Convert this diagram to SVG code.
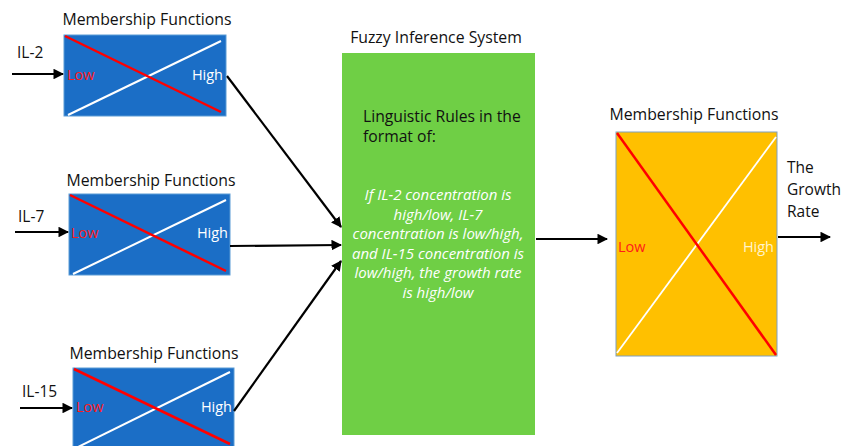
<svg xmlns="http://www.w3.org/2000/svg" width="842" height="446" viewBox="0 0 842 446">
  <style>
    text { font-family: "Open Sans", "Liberation Sans", sans-serif; }
    .title { font-size: 15.8px; fill: #111; text-anchor: middle; }
    .lbl { font-size: 15.5px; fill: #111; }
    .low { font-size: 14.5px; fill: #ff1a1a; }
    .high { font-size: 14.5px; fill: #ffffff; text-anchor: end; }
    .high2 { font-size: 14.5px; fill: #fff4cc; text-anchor: end; }
    .mf { fill: #1b6ec6; stroke: #5b9bd5; stroke-width: 1; }
    .out { fill: #ffc000; stroke: #7f9fbf; stroke-width: 1; }
    .red { stroke: #ff0000; stroke-width: 2.5; }
    .white { stroke: #ffffff; stroke-width: 2; }
    .white2 { stroke: #ffffff; stroke-width: 1.8; }
    .conn { stroke: #000; stroke-width: 2.2; fill: none; marker-end: url(#arrow); }
    .rule { font-size: 15px; fill: #ffffff; font-style: italic; text-anchor: middle; }
    .rulehead { font-size: 15.7px; fill: #111; }
  </style>
  <defs>
    <marker id="arrow" viewBox="0 0 10 10" refX="9" refY="5" markerWidth="4.8" markerHeight="4.8" orient="auto" markerUnits="strokeWidth">
      <path d="M0,0 L10,5 L0,10 Z" fill="#000"/>
    </marker>
  </defs>

  <rect width="842" height="446" fill="#ffffff"/>

  <!-- Input membership functions: IL-2 -->
  <g id="mf-il2">
    <text class="title" x="147" y="25">Membership Functions</text>
    <rect class="mf" x="64" y="35" width="162" height="81"/>
    <line class="white" x1="68" y1="115" x2="221" y2="41"/>
    <line class="red" x1="65" y1="36" x2="221" y2="112"/>
    <text class="low" x="67" y="80">Low</text>
    <text class="high" x="223" y="80">High</text>
  </g>

  <!-- Input membership functions: IL-7 -->
  <g id="mf-il7">
    <text class="title" x="151" y="186">Membership Functions</text>
    <rect class="mf" x="69" y="194" width="161" height="81"/>
    <line class="white" x1="73" y1="274" x2="226" y2="200"/>
    <line class="red" x1="70" y1="195" x2="226" y2="271"/>
    <text class="low" x="71" y="238">Low</text>
    <text class="high" x="228" y="238">High</text>
  </g>

  <!-- Input membership functions: IL-15 -->
  <g id="mf-il15">
    <text class="title" x="154" y="359">Membership Functions</text>
    <rect class="mf" x="73" y="368" width="161" height="82"/>
    <line class="white" x1="78" y1="447" x2="230" y2="372"/>
    <line class="red" x1="74" y1="369" x2="230" y2="444"/>
    <text class="low" x="76" y="412">Low</text>
    <text class="high" x="232" y="412">High</text>
  </g>

  <!-- Input labels -->
  <g id="inputs">
    <text class="lbl" x="17" y="58">IL-2</text>
    <text class="lbl" x="18" y="222">IL-7</text>
    <text class="lbl" x="22" y="397">IL-15</text>
  </g>

  <!-- Fuzzy inference system -->
  <g id="fis">
    <text class="title" x="436" y="43">Fuzzy Inference System</text>
    <rect x="342" y="53" width="193" height="382" fill="#6fcf45"/>
    <text class="rulehead" x="363" y="122">Linguistic Rules in the</text>
    <text class="rulehead" x="363" y="142">format of:</text>
    <text class="rule" x="438" y="200">If IL-2 concentration is</text>
    <text class="rule" x="438" y="220">high/low, IL-7</text>
    <text class="rule" x="438" y="239">concentration is low/high,</text>
    <text class="rule" x="438" y="259">and IL-15 concentration is</text>
    <text class="rule" x="438" y="278">low/high, the growth rate</text>
    <text class="rule" x="438" y="298">is high/low</text>
  </g>

  <!-- Output membership functions -->
  <g id="mf-out">
    <text class="title" x="694" y="120">Membership Functions</text>
    <rect class="out" x="616" y="132" width="161" height="224"/>
    <line class="white2" x1="617" y1="353" x2="776" y2="137"/>
    <line class="red" x1="617" y1="133" x2="776" y2="355"/>
    <text class="low" x="618" y="252">Low</text>
    <text class="high2" x="774" y="252">High</text>
  </g>

  <!-- Output label -->
  <g id="output">
    <text class="lbl" x="787" y="173">The</text>
    <text class="lbl" x="787" y="195">Growth</text>
    <text class="lbl" x="787" y="217">Rate</text>
  </g>

  <!-- Connectors -->
  <g id="connectors">
    <line class="conn" x1="12" y1="74" x2="63" y2="74"/>
    <line class="conn" x1="15" y1="232" x2="68" y2="232"/>
    <line class="conn" x1="20" y1="408" x2="72" y2="408"/>
    <line class="conn" x1="227" y1="76" x2="341" y2="227"/>
    <line class="conn" x1="230" y1="246" x2="341" y2="245"/>
    <line class="conn" x1="234" y1="411" x2="341" y2="261"/>
    <line class="conn" x1="536" y1="239" x2="607" y2="239"/>
    <line class="conn" x1="778" y1="237" x2="830" y2="237"/>
  </g>
</svg>
